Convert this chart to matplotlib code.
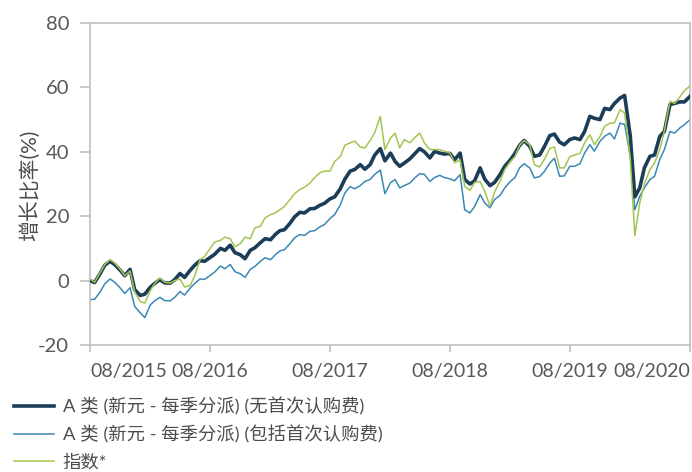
import matplotlib
matplotlib.use("Agg")
import matplotlib.pyplot as plt
import pandas as pd

plt.rcParams['font.family'] = ['Lato', 'Noto Sans CJK SC', 'DejaVu Sans']

# semi-monthly observations, Aug 2015 - Aug 2020
start_date = '2015-08-01'
n_points = 121

series_a_no_fee = [
    0, -0.6, 2.2, 4.8, 6.0, 5.0, 3.2, 1.5, 3.5, -2.8,
    -4.6, -4.2, -2.0, -0.8, 0.3, -0.7, -0.8, 0.3, 2.2, 1.0,
    3.2, 4.8, 6.2, 6.0, 7.2, 8.2, 10.0, 9.4, 11.0, 8.7,
    8.0, 6.8, 9.4, 10.2, 11.8, 13.0, 12.7, 14.3, 15.5, 15.8,
    17.8, 19.8, 21.2, 21.0, 22.3, 22.4, 23.4, 24.0, 25.4, 26.0,
    28.5, 31.5, 34.0, 34.5, 36.0, 34.6, 36.0, 39.0, 41.0, 37.2,
    39.6, 37.0, 35.5, 36.5, 37.8, 39.3, 41.0, 40.0, 38.1, 40.1,
    39.6, 39.3, 39.5, 37.5, 39.6, 31.4, 30.0, 31.0, 35.0, 31.5,
    29.5, 30.5, 33.0, 35.5, 37.5, 39.5, 42.0, 43.5, 41.7, 38.6,
    39.0, 41.5, 45.0, 45.5, 43.0, 42.2, 43.8, 44.3, 43.8, 46.3,
    51.0, 50.4, 50.0, 53.5, 53.1, 55.0, 56.7, 57.5, 45.0, 26.0,
    28.8, 35.0, 38.6, 39.0, 44.8, 46.3, 54.7, 55.0, 55.5, 55.5,
    57.2,
]

series_a_with_fee = [
    -5.9, -5.8, -3.5, -1.0, 0.5, -0.5, -2.3, -4.0, -2.2, -8.0,
    -10.0, -11.5, -7.5, -6.2, -5.2, -6.2, -6.3, -5.2, -3.4, -4.5,
    -2.3, -0.9, 0.5, 0.4, 1.6, 2.7, 4.5, 3.7, 5.0, 2.8,
    2.1, 1.0, 3.5, 4.4, 6.0, 7.1, 6.5, 8.0, 9.2, 9.6,
    11.5, 13.3, 14.3, 14.0, 15.3, 15.5, 16.7, 17.4, 19.3, 20.5,
    23.5, 27.2, 29.2, 28.5, 29.5, 30.8, 31.4, 33.0, 34.3, 27.0,
    30.4, 31.4, 28.8, 29.5, 30.3, 31.8, 33.2, 33.0, 30.8, 32.0,
    32.7, 32.0, 31.6, 31.0, 32.9, 22.0, 21.0, 23.0, 26.7, 24.1,
    22.6, 25.2, 26.5, 28.8, 30.8, 32.0, 35.0, 36.3, 35.0, 31.9,
    32.3, 33.8, 36.5, 38.0, 32.4, 32.5, 35.5, 35.5, 36.3, 39.6,
    42.2, 40.2, 43.3, 44.8, 45.8, 44.0, 48.9, 48.5, 38.6, 22.0,
    26.2, 28.8, 31.4, 32.4, 37.6, 40.7, 46.3, 45.8, 47.4, 48.4,
    50.0,
]

series_index = [
    0.5, -0.5, 2.5, 5.0, 6.5, 5.5, 3.5, 1.5, 3.0, -3.5,
    -6.5, -7.0, -3.0, -0.8, 0.8, -0.5, -0.8, 0.0, 0.5, -2.0,
    -1.5, 1.5, 6.5, 7.5, 10.0, 12.0, 12.5, 13.5, 13.0, 10.5,
    11.5, 13.5, 13.0, 16.4, 16.9, 19.5, 20.5, 21.0, 22.0, 23.0,
    25.2, 27.0, 28.3, 29.0, 30.3, 32.0, 33.5, 34.0, 34.0, 37.0,
    38.5, 42.0, 42.8, 43.3, 41.5, 41.2, 43.5, 46.0, 51.0, 40.7,
    44.3, 45.8, 41.2, 43.8, 42.8, 44.3, 45.8, 42.8, 40.7, 40.7,
    40.7, 40.2, 39.6, 36.6, 37.5, 29.3, 28.0, 30.5, 30.8, 27.7,
    23.1, 27.5, 31.0, 34.5, 37.0, 38.5, 42.0, 43.5, 42.2, 36.0,
    35.3, 37.5, 41.0, 41.5, 35.0, 35.0, 38.5, 39.0, 39.5, 42.8,
    45.3, 42.2, 44.8, 47.9, 48.9, 49.0, 53.1, 52.0, 38.0, 14.0,
    24.1, 30.0, 34.5, 36.5, 40.7, 46.5, 55.7, 55.0, 57.0, 59.0,
    60.5,
]

labels = [
    'A 类 (新元 - 每季分派) (无首次认购费)',
    'A 类 (新元 - 每季分派) (包括首次认购费)',
    '指数*',
]
tick_years = [2015, 2016, 2017, 2018, 2019, 2020]
y_ticks = [-20, 0, 20, 40, 60, 80]

dates = pd.date_range(start_date, periods=n_points, freq='SMS')

c_dark = '#1c3d57'
c_blue = '#3a88b4'
c_green = '#a3c552'
c_text = '#4d4d4d'
c_tick = '#585858'
c_spine = '#c0c0c0'

fig = plt.figure(figsize=(6.92, 4.72), dpi=100)
ax = fig.add_axes([90 / 692, 1 - 345 / 472, 600 / 692, 322 / 472])

l1, = ax.plot(dates, series_a_no_fee, color=c_dark, lw=2.6, label=labels[0], zorder=3)
l2, = ax.plot(dates, series_a_with_fee, color=c_blue, lw=1.1, label=labels[1], zorder=2)
l3, = ax.plot(dates, series_index, color=c_green, lw=1.1, label=labels[2], zorder=4)

ax.set_xlim(pd.Timestamp('2015-08-01'), pd.Timestamp('2020-08-01'))
ax.set_ylim(-20, 80)
ax.set_yticks(y_ticks)
ax.set_yticklabels([str(v) for v in y_ticks])

xt = [pd.Timestamp(f'{y}-08-01') for y in tick_years]
ax.set_xticks(xt)
ax.set_xticklabels([f'08/{y}' for y in tick_years])
tl = ax.get_xticklabels()
tl[0].set_ha('left')
tl[-1].set_ha('right')

for s in ax.spines.values():
    s.set_color(c_spine)
    s.set_linewidth(1.2)

ax.tick_params(axis='y', length=7, width=1.2, color=c_spine, labelcolor=c_tick,
               labelsize=14.5, pad=8)
ax.tick_params(axis='x', length=5, width=1.2, color=c_spine, labelcolor=c_tick,
               labelsize=14, pad=8)

ax.set_ylabel('增长比率(%)', fontsize=15, color=c_text)
ax.yaxis.set_label_coords(-0.083, 0.497)

fig.legend(handles=[l1, l2, l3], labels=labels, loc='upper left',
           bbox_to_anchor=(14 / 692, 1 - 397 / 472), frameon=False,
           fontsize=13.2, handlelength=2.2, handletextpad=0.45,
           labelspacing=0.55, borderpad=0, borderaxespad=0,
           labelcolor=c_text)

fig.savefig('out.png', dpi=100)
